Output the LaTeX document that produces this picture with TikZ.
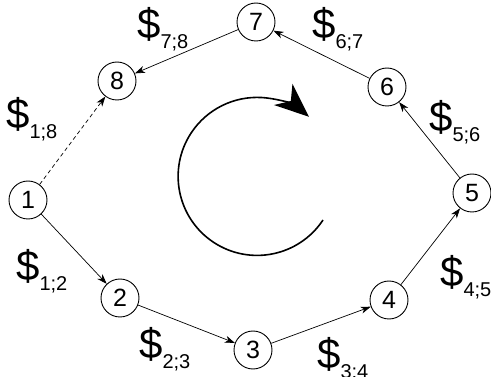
\documentclass[tikz,border=0pt]{standalone}
\usepackage{fontspec}
\setmainfont{Liberation Sans}
\usetikzlibrary{arrows.meta}
\tikzset{
  vtx/.style={draw, circle, line width=0.9pt, minimum size=38pt, inner sep=0pt, font=\fontsize{25}{25}\selectfont},
  edg/.style={line width=0.7pt, -{Stealth[length=10pt,width=7pt,inset=3pt]}},
  dashedg/.style={edg, dash pattern=on 4pt off 3pt},
  lbl/.style={anchor=base west, inner sep=0pt},
}
\newcommand{\cost}[1]{\fontsize{42}{42}\selectfont\$\raisebox{-10pt}{\fontsize{20}{20}\selectfont #1}}
\begin{document}
\begin{tikzpicture}[x=1pt,y=-1pt]
\useasboundingbox (0,0) rectangle (491,377);
\node[vtx] (n1) at (28,200) {1};
\node[vtx] (n2) at (120,298) {2};
\node[vtx] (n3) at (253,350) {3};
\node[vtx] (n4) at (389,300) {4};
\node[vtx] (n5) at (472,193) {5};
\node[vtx] (n6) at (387,87) {6};
\node[vtx] (n7) at (256,22) {7};
\node[vtx] (n8) at (117,81) {8};
\draw[edg] (n1) -- (n2);
\draw[edg] (n2) -- (n3);
\draw[edg] (n3) -- (n4);
\draw[edg] (n4) -- (n5);
\draw[edg] (n5) -- (n6);
\draw[edg] (n6) -- (n7);
\draw[edg] (n7) -- (n8);
\draw[dashedg] (n1) -- (n8);
\node[lbl] (l78) at (137,39) {\cost{7;8}};
\node[lbl] (l18) at (6,129) {\cost{1;8}};
\node[lbl] (l67) at (312,39) {\cost{6;7}};
\node[lbl] (l56) at (429,132) {\cost{5;6}};
\node[lbl] (l45) at (440,287) {\cost{4;5}};
\node[lbl] (l34) at (317,369) {\cost{3;4}};
\node[lbl] (l12) at (16,281) {\cost{1;2}};
\node[lbl] (l23) at (139,359) {\cost{2;3}};
\coordinate (arcstart) at (323,220);
\draw[line width=1.6pt, -{Stealth[length=34pt,width=28pt,inset=10pt]}] (arcstart) arc[start angle=33.5, end angle=311, radius=79];
\end{tikzpicture}
\end{document}
